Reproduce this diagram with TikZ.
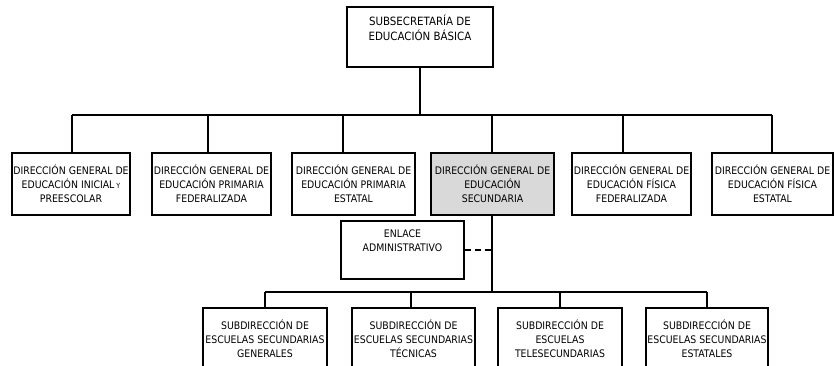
\documentclass[tikz,border=0pt]{standalone}
\usepackage{fontspec}
\setmainfont{DejaVu Sans Condensed}
\begin{document}
\begin{tikzpicture}[x=1pt,y=-1pt,
  box/.style={draw=black,line width=1.3pt,fill=white,align=center,inner sep=1pt,
    font=\fontsize{10.4}{14}\selectfont},
  conn/.style={draw=black,line width=1.3pt}]
\useasboundingbox (0,0) rectangle (836,365);
\node[box,minimum width=146,minimum height=60,font=\fontsize{11.4}{15.5}\selectfont] (top) at (420,37) {SUBSECRETARÍA DE\\EDUCACIÓN BÁSICA\\[3pt]};
\node[box,minimum width=118,minimum height=62] (b1) at (71,184) {DIRECCIÓN GENERAL DE\\EDUCACIÓN INICIAL{\fontsize{7}{7}\selectfont\ Y}\\PREESCOLAR};
\node[box,minimum width=119,minimum height=62] (b2) at (211.5,184) {DIRECCIÓN GENERAL DE\\EDUCACIÓN PRIMARIA\\FEDERALIZADA};
\node[box,minimum width=123,minimum height=62] (b3) at (353.5,184) {DIRECCIÓN GENERAL DE\\EDUCACIÓN PRIMARIA\\ESTATAL};
\node[box,minimum width=123,minimum height=62,fill=black!15] (b4) at (492.5,184) {DIRECCIÓN GENERAL DE\\EDUCACIÓN\\SECUNDARIA};
\node[box,minimum width=119,minimum height=62] (b5) at (631.5,184) {DIRECCIÓN GENERAL DE\\EDUCACIÓN FÍSICA\\FEDERALIZADA};
\node[box,minimum width=121,minimum height=62] (b6) at (772.5,184) {DIRECCIÓN GENERAL DE\\EDUCACIÓN FÍSICA\\ESTATAL};
\node[box,minimum width=123,minimum height=58] (enl) at (402.5,250) {ENLACE\\ADMINISTRATIVO\\[4pt]};
\node[box,minimum width=124,minimum height=62] (c1) at (265,339) {SUBDIRECCIÓN DE\\ESCUELAS SECUNDARIAS\\GENERALES};
\node[box,minimum width=123,minimum height=62] (c2) at (413.5,339) {SUBDIRECCIÓN DE\\ESCUELAS SECUNDARIAS\\TÉCNICAS};
\node[box,minimum width=124,minimum height=62] (c3) at (560,339) {SUBDIRECCIÓN DE\\ESCUELAS\\TELESECUNDARIAS};
\node[box,minimum width=122,minimum height=62] (c4) at (707,339) {SUBDIRECCIÓN DE\\ESCUELAS SECUNDARIAS\\ESTATALES};
\coordinate (bus) at (0,115);
\coordinate (bus2) at (0,292);
\coordinate (b4n) at ([xshift=-0.5pt]b4.north);
\coordinate (b4s) at ([xshift=-0.5pt]b4.south);
\coordinate (b6n) at ([xshift=-0.5pt]b6.north);
% top level bus
\draw[conn] (top.south) -- (top.south |- bus);
\draw[conn] ([xshift=1pt]b1.north |- bus) -- (b6n |- bus);
\draw[conn] ([xshift=1pt]b1.north |- bus) -- ([xshift=1pt]b1.north);
\draw[conn] ([xshift=-3.5pt]b2.north |- bus) -- ([xshift=-3.5pt]b2.north);
\draw[conn] ([xshift=-10.5pt]b3.north |- bus) -- ([xshift=-10.5pt]b3.north);
\draw[conn] (b4n |- bus) -- (b4n);
\draw[conn] ([xshift=-8.5pt]b5.north |- bus) -- ([xshift=-8.5pt]b5.north);
\draw[conn] (b6n |- bus) -- (b6n);
% secundaria subtree
\draw[conn,dash pattern=on 6pt off 4pt] (enl.east) -- (enl.east -| b4s);
\draw[conn] (b4s) -- (b4s |- bus2);
\draw[conn] (c1.north |- bus2) -- (c4.north |- bus2);
\draw[conn] (c1.north |- bus2) -- (c1.north);
\draw[conn] ([xshift=-2.5pt]c2.north |- bus2) -- ([xshift=-2.5pt]c2.north);
\draw[conn] (c3.north |- bus2) -- (c3.north);
\draw[conn] (c4.north |- bus2) -- (c4.north);
\end{tikzpicture}
\end{document}
